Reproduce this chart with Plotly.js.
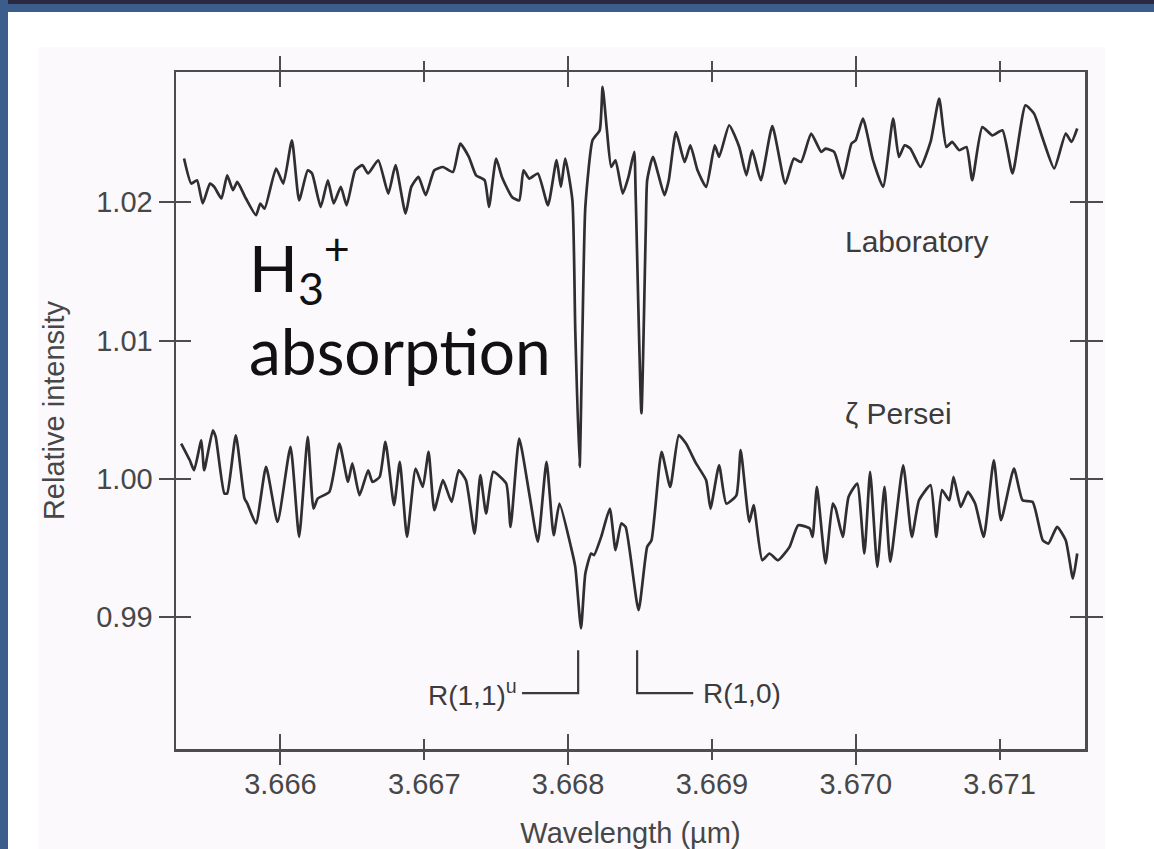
<!DOCTYPE html>
<html>
<head>
<meta charset="utf-8">
<script src="https://cdn.plot.ly/plotly-3.0.1.min.js"></script>
<style>
  html, body { margin: 0; padding: 0; background: #ffffff; }
  #wrap { position: relative; width: 1154px; height: 849px; overflow: hidden; background: #ffffff; }
  .bg { position: absolute; }
  #chart { position: absolute; left: 0; top: 0; width: 1154px; height: 849px; }
</style>
</head>
<body>
<div id="wrap">
  <div class="bg" style="left:38px;top:47px;width:1067px;height:802px;background:#fcf9fc;"></div>
  <div class="bg" style="left:0;top:0;width:1154px;height:4px;background:#2b2842;"></div>
  <div class="bg" style="left:0;top:4px;width:1154px;height:8px;background:#3a5d8c;"></div>
  <div class="bg" style="left:0;top:0;width:8px;height:849px;background:#3a5d8c;"></div>
  <div id="chart"></div>
</div>
<script>
// ---- data ----
const seriesNames = ["Laboratory", "\u03b6 Persei"];

const wavelengthLab = [3.66533,3.66538,3.66542,3.66546,3.66551,3.66554,3.66559,3.66563,3.66567,3.66570,
  3.66576,3.66583,3.66586,3.66589,3.66597,3.66602,3.66608,3.66613,3.66619,3.66622,
  3.66628,3.66633,3.66637,3.66642,3.66646,3.66652,3.66657,3.66661,3.66668,3.66675,
  3.66680,3.66687,3.66691,3.66696,3.66701,3.66707,3.66713,3.66720,3.66725,3.66731,
  3.66736,3.66742,3.66745,3.66750,3.66754,3.66761,3.66766,3.66769,3.66773,3.66779,
  3.66786,3.66792,3.66795,3.66798,3.66803,3.66805,3.66808,3.66810,3.66812,3.66817,
  3.66822,3.66824,3.66827,3.66830,3.66833,3.66838,3.66842,3.66846,3.66847,3.66851,
  3.66854,3.66855,3.66859,3.66867,3.66870,3.66875,3.66881,3.66885,3.66890,3.66896,
  3.66902,3.66905,3.66912,3.66919,3.66924,3.66928,3.66934,3.66942,3.66951,3.66957,
  3.66962,3.66969,3.66976,3.66979,3.66985,3.66991,3.66997,3.67000,3.67005,3.67012,
  3.67019,3.67026,3.67030,3.67034,3.67038,3.67045,3.67052,3.67058,3.67063,3.67067,
  3.67072,3.67077,3.67081,3.67088,3.67095,3.67102,3.67109,3.67118,3.67124,3.67130,
  3.67138,3.67146,3.67150,3.67154];
const intensityLab = [1.02316,1.02135,1.02159,1.01991,1.02135,1.02111,1.02027,1.02195,1.02087,1.02147,
  1.02027,1.01906,1.01991,1.01954,1.02244,1.02135,1.02448,1.02014,1.02231,1.02208,
  1.01966,1.02159,1.01991,1.02111,1.01978,1.02231,1.02268,1.02208,1.02304,1.02063,
  1.02268,1.01918,1.02111,1.02183,1.02051,1.02231,1.02255,1.02219,1.02424,1.02328,
  1.02195,1.02159,1.01966,1.02316,1.02183,1.02038,1.02014,1.02231,1.02171,1.02208,
  1.01978,1.02304,1.02111,1.02316,1.02014,1.01074,1.00086,1.01074,1.01966,1.02448,
  1.02521,1.02834,1.02521,1.02255,1.02304,1.02063,1.02183,1.02364,1.02051,1.00474,
  1.01798,1.02159,1.02328,1.02051,1.02159,1.02508,1.02291,1.02412,1.02231,1.02111,
  1.02412,1.02328,1.02557,1.02400,1.02195,1.02376,1.02159,1.02550,1.02135,1.02316,
  1.02291,1.02497,1.02364,1.02388,1.02364,1.02171,1.02424,1.02448,1.02605,1.02304,
  1.02111,1.02605,1.02328,1.02412,1.02388,1.02255,1.02436,1.02750,1.02400,1.02436,
  1.02376,1.02400,1.02159,1.02544,1.02484,1.02521,1.02208,1.02701,1.02641,1.02461,
  1.02244,1.02497,1.02436,1.02533];

const wavelengthPersei = [3.66531,3.66537,3.66540,3.66545,3.66547,3.66553,3.66555,3.66561,3.66563,3.66569,
  3.66575,3.66577,3.66583,3.66590,3.66598,3.66607,3.66613,3.66619,3.66623,3.66626,
  3.66634,3.66641,3.66647,3.66650,3.66655,3.66661,3.66664,3.66669,3.66673,3.66679,
  3.66683,3.66688,3.66694,3.66699,3.66703,3.66707,3.66713,3.66719,3.66724,3.66729,
  3.66735,3.66739,3.66743,3.66748,3.66757,3.66760,3.66766,3.66773,3.66779,3.66785,
  3.66790,3.66794,3.66802,3.66805,3.66809,3.66812,3.66816,3.66818,3.66823,3.66829,
  3.66833,3.66837,3.66840,3.66849,3.66855,3.66858,3.66865,3.66871,3.66877,3.66882,
  3.66889,3.66896,3.66899,3.66905,3.66910,3.66917,3.66920,3.66926,3.66929,3.66935,
  3.66940,3.66946,3.66954,3.66960,3.66968,3.66970,3.66973,3.66979,3.66984,3.66986,
  3.66991,3.66995,3.67001,3.67006,3.67010,3.67015,3.67020,3.67024,3.67033,3.67039,
  3.67044,3.67052,3.67056,3.67060,3.67065,3.67068,3.67073,3.67078,3.67083,3.67089,
  3.67096,3.67101,3.67110,3.67116,3.67123,3.67130,3.67134,3.67140,3.67146,3.67151,
  3.67154];
const intensityPersei = [1.00255,1.00134,1.00062,1.00279,1.00062,1.00351,1.00303,0.99894,0.99894,1.00315,
  0.99858,0.99821,0.99677,1.00086,0.99688,1.00231,0.99580,1.00303,0.99785,0.99858,
  0.99905,1.00255,0.99978,1.00111,0.99881,1.00062,0.99978,1.00014,1.00267,0.99809,
  1.00122,0.99580,1.00074,0.99941,1.00195,0.99773,0.99990,0.99833,1.00062,0.99990,
  0.99604,1.00026,0.99749,1.00050,0.99966,0.99652,1.00291,0.99894,0.99544,1.00122,
  0.99592,0.99821,0.99508,0.99363,0.98918,0.99315,0.99460,0.99448,0.99580,0.99785,
  0.99484,0.99677,0.99652,0.99050,0.99508,0.99556,1.00195,0.99941,1.00315,1.00255,
  1.00111,0.99990,0.99785,1.00098,0.99821,0.99881,1.00207,0.99688,0.99809,0.99411,
  0.99460,0.99411,0.99508,0.99664,0.99641,0.99580,0.99941,0.99388,0.99821,0.99785,
  0.99580,0.99869,0.99966,0.99460,1.00050,0.99363,0.99941,0.99399,1.00098,0.99580,
  0.99845,0.99954,0.99580,0.99918,0.99845,1.00014,0.99797,0.99905,0.99821,0.99580,
  1.00134,0.99701,1.00074,0.99845,0.99833,0.99556,0.99532,0.99652,0.99556,0.99279,
  0.99460];

// absorption line identifications
const lineLabels = ["R(1,1)<sup>u</sup>", "R(1,0)"];
const linePositions = [3.66807, 3.66848];

const xTickVals = [3.666, 3.667, 3.668, 3.669, 3.670, 3.671];
const yTickVals = [0.99, 1.00, 1.01, 1.02];

// ---- styling / layout ----
const INK = "#2f2f2f";
const FRAME = "#4d4d4d";
const TXT = "#474747";
const FONT = "Liberation Sans, Arial, Helvetica, sans-serif";
const xRange = [3.665274, 3.671594];
const yRange = [0.98046, 1.02942];

const bracketTop = 0.98761, bracketBottom = 0.98450, bracketArm = 0.00039;
const bracketDir = [-1, 1];

const traces = [
  { x: wavelengthLab, y: intensityLab, name: seriesNames[0], type: "scatter", mode: "lines",
    line: { color: INK, width: 2.7, shape: "spline", smoothing: 0.5 }, hoverinfo: "skip" },
  { x: wavelengthPersei, y: intensityPersei, name: seriesNames[1], type: "scatter", mode: "lines",
    line: { color: INK, width: 2.7, shape: "spline", smoothing: 0.5 }, hoverinfo: "skip" }
];
linePositions.forEach((p, i) => {
  traces.push({
    x: [p, p, p + bracketDir[i] * bracketArm],
    y: [bracketTop, bracketBottom, bracketBottom],
    type: "scatter", mode: "lines", line: { color: "#3a3a3a", width: 2.2 },
    hoverinfo: "skip", showlegend: false
  });
});
// invisible carriers so that the overlay tick axes are drawn
[["x2", "y"], ["x3", "y"], ["x", "y2"]].forEach(([xa, ya]) => {
  traces.push({ x: wavelengthLab, y: intensityLab, xaxis: xa, yaxis: ya, type: "scatter",
    mode: "lines", line: { width: 0, color: "rgba(0,0,0,0)" }, opacity: 0,
    hoverinfo: "skip", showlegend: false });
});

const annotations = [
  { x: 3.66991, y: 1.01718, xref: "x", yref: "y", text: seriesNames[0], showarrow: false,
    xanchor: "left", yanchor: "middle", font: { family: FONT, size: 30, color: "#3c3c3c" } },
  { x: 3.66991, y: 1.00474, xref: "x", yref: "y", text: seriesNames[1], showarrow: false,
    xanchor: "left", yanchor: "middle", font: { family: FONT, size: 30, color: "#3c3c3c" } },
  { x: 3.66577, y: 1.01880, xref: "x", yref: "y", text: "H<sub>3</sub><sup>+</sup><br>absorption",
    showarrow: false, xanchor: "left", yanchor: "top", align: "left",
    font: { family: "Lato, Noto Sans, sans-serif", size: 64, color: "#111111" } }
];
linePositions.forEach((p, i) => {
  annotations.push({
    x: p + bracketDir[i] * bracketArm, y: bracketBottom, xref: "x", yref: "y",
    text: lineLabels[i], showarrow: false,
    xanchor: bracketDir[i] < 0 ? "right" : "left", yanchor: "middle",
    xshift: bracketDir[i] < 0 ? -3 : 8,
    font: { family: FONT, size: 28, color: "#3c3c3c" }
  });
});

const tickCommon = { tickwidth: 2, tickcolor: FRAME, showgrid: false, zeroline: false };

const layout = {
  width: 1154, height: 849,
  margin: { l: 176, r: 69, t: 72, b: 100, pad: 0 },
  paper_bgcolor: "rgba(0,0,0,0)", plot_bgcolor: "rgba(0,0,0,0)",
  font: { family: FONT, color: TXT, size: 29 },
  showlegend: false,
  xaxis: {
    range: xRange, tickvals: xTickVals, ticktext: xTickVals.map(v => v.toFixed(3)),
    ticks: "outside", ticklen: 8, tickcolor: "rgba(0,0,0,0)",
    showline: true, linecolor: FRAME, linewidth: 2.5, mirror: true,
    showgrid: false, zeroline: false,
    tickfont: { family: FONT, size: 29, color: TXT },
    title: { text: "Wavelength (\u00b5m)", font: { family: FONT, size: 29, color: TXT }, standoff: 24 },
    automargin: false
  },
  xaxis2: Object.assign({}, tickCommon, {
    overlaying: "x", anchor: "y", side: "bottom", range: xRange,
    tick0: 3.666, dtick: 0.002, ticks: "outside", ticklen: 15, mirror: "ticks",
    minor: { tick0: 3.666, dtick: 0.001, ticks: "outside", ticklen: 10, tickwidth: 2, tickcolor: FRAME },
    showticklabels: false, showline: false
  }),
  xaxis3: Object.assign({}, tickCommon, {
    overlaying: "x", anchor: "y", side: "bottom", range: xRange,
    tick0: 3.666, dtick: 0.002, ticks: "inside", ticklen: 15, mirror: "ticks",
    minor: { tick0: 3.666, dtick: 0.001, ticks: "inside", ticklen: 10, tickwidth: 2, tickcolor: FRAME },
    showticklabels: false, showline: false
  }),
  yaxis: {
    range: yRange, tickvals: yTickVals, ticktext: yTickVals.map(v => v.toFixed(2)),
    ticks: "outside", ticklen: 15, tickwidth: 2, tickcolor: FRAME,
    showline: true, linecolor: FRAME, linewidth: 2.5, mirror: "ticks",
    showgrid: false, zeroline: false,
    tickfont: { family: FONT, size: 29, color: TXT },
    title: { text: "Relative intensity", font: { family: FONT, size: 29, color: TXT }, standoff: 23 },
    automargin: false
  },
  yaxis2: Object.assign({}, tickCommon, {
    overlaying: "y", anchor: "x", side: "left", range: yRange,
    tickvals: yTickVals, ticks: "inside", ticklen: 15, mirror: "ticks",
    showticklabels: false, showline: false
  }),
  annotations: annotations
};

Plotly.newPlot("chart", traces, layout, { staticPlot: true, displayModeBar: false });
</script>
</body>
</html>
